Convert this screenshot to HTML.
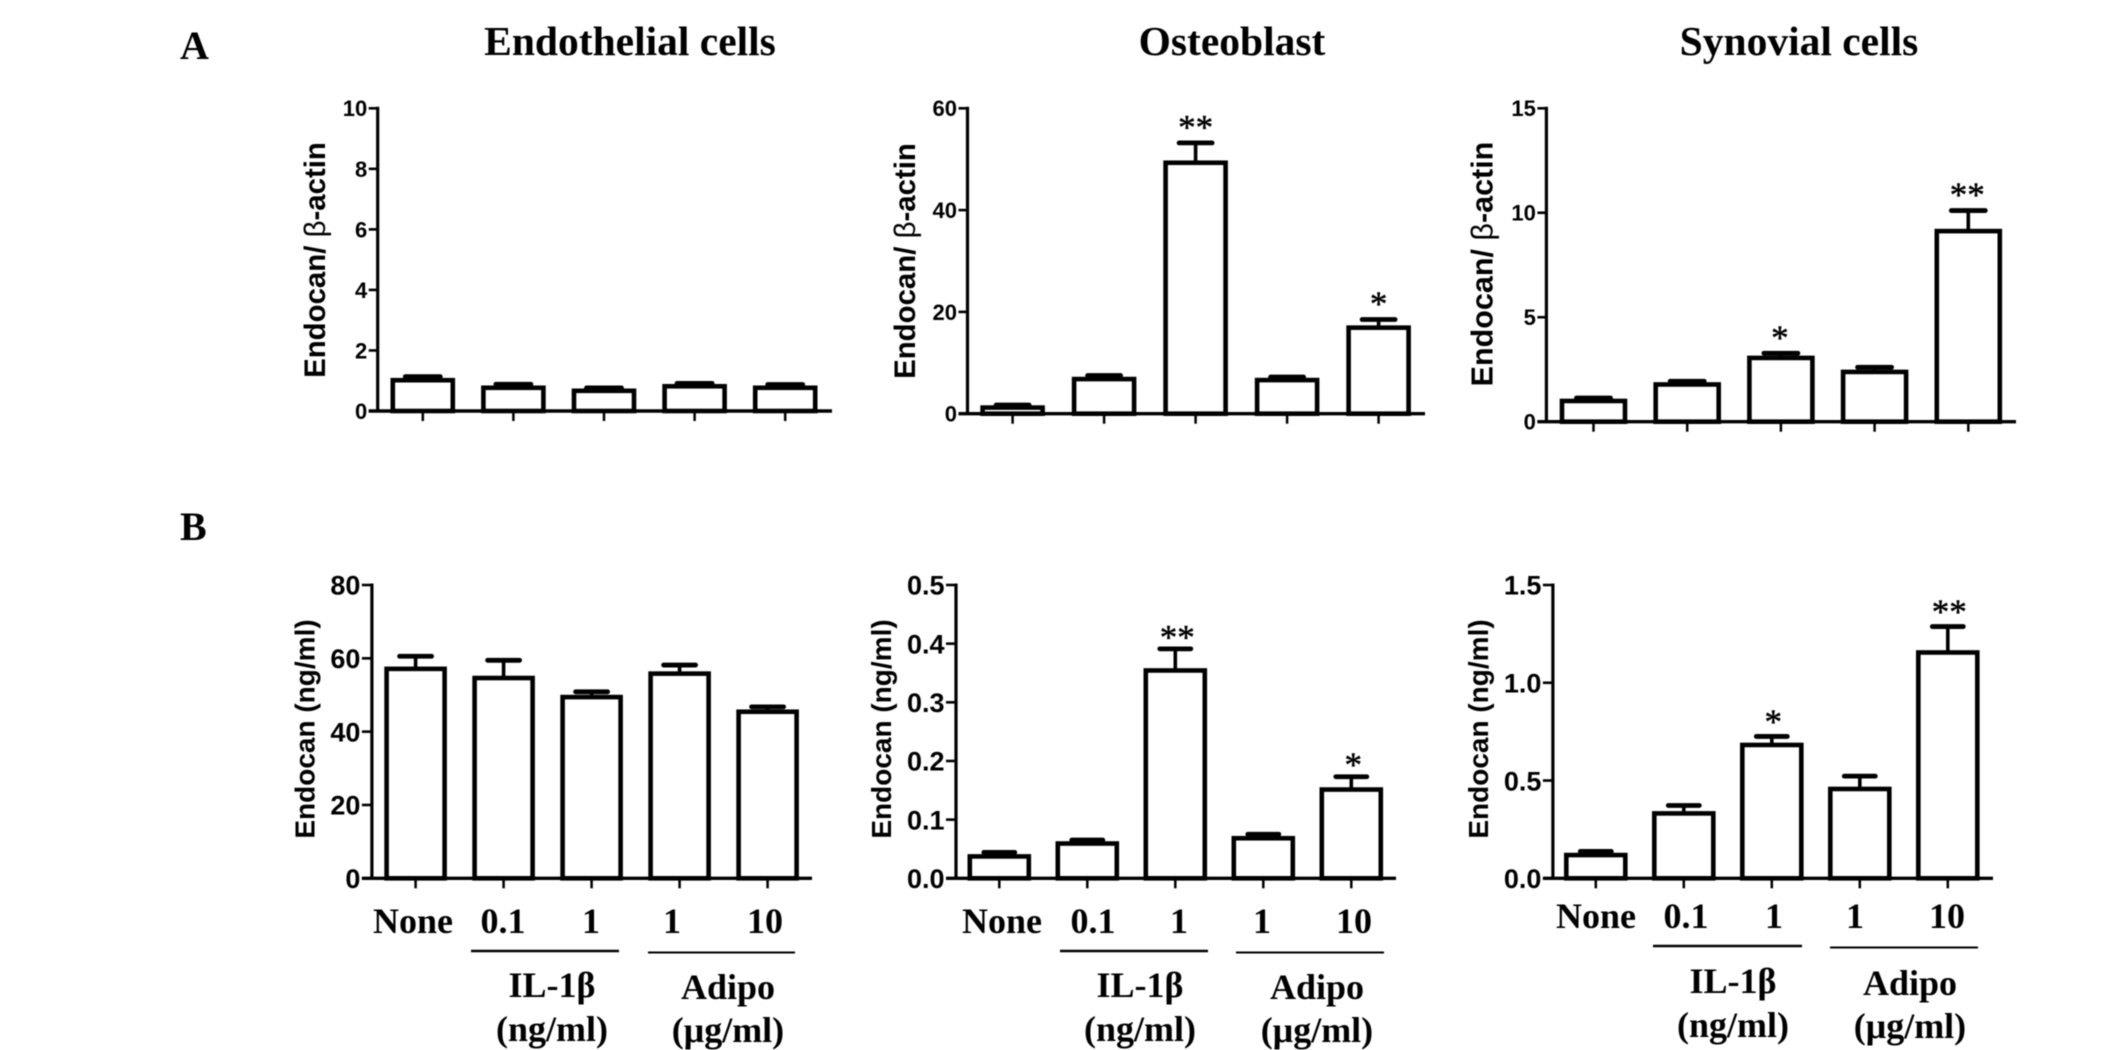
<!DOCTYPE html>
<html lang="en">
<head>
<meta charset="utf-8">
<title>Endocan expression by cell type</title>
<style>
html,body{margin:0;padding:0;background:#fff;width:2126px;height:1050px;overflow:hidden}
svg{display:block;filter:blur(0.4px)}
.serif{font-family:"Liberation Serif",serif;font-weight:bold;fill:#000}
.sans{font-family:"Liberation Sans",sans-serif;font-weight:bold;fill:#000}
.title{font-size:41.5px;text-anchor:middle}
.letter{font-size:40px}
.cat{font-size:36px;text-anchor:middle}
.grp{font-size:36px;text-anchor:middle}
</style>
</head>
<body>
<svg id="figure" width="2126" height="1050" viewBox="0 0 2126 1050" xmlns="http://www.w3.org/2000/svg">
<rect width="2126" height="1050" fill="#fff"/>
<text class="serif letter" x="180" y="59">A</text>
<text class="serif letter" x="180" y="540">B</text>
<text class="serif title" x="630" y="55">Endothelial cells</text>
<text class="serif title" x="1232" y="55">Osteoblast</text>
<text class="serif title" x="1799" y="55">Synovial cells</text>

<g>
<text class="serif cat" x="413" y="933">None</text>
<text class="serif cat" x="503" y="933">0.1</text>
<text class="serif cat" x="591" y="933">1</text>
<text class="serif cat" x="672" y="933">1</text>
<text class="serif cat" x="765" y="933">10</text>
<line x1="471" x2="619" y1="951" y2="951" stroke="#000" stroke-width="2.5"/>
<line x1="648" x2="795" y1="952.5" y2="952.5" stroke="#000" stroke-width="2"/>
<text class="serif grp" x="552" y="997">IL-1β</text>
<text class="serif grp" x="552" y="1041">(ng/ml)</text>
<text class="serif grp" x="728" y="999">Adipo</text>
<text class="serif grp" x="728" y="1042">(μg/ml)</text>
</g>
<g>
<text class="serif cat" x="1002" y="933">None</text>
<text class="serif cat" x="1093" y="933">0.1</text>
<text class="serif cat" x="1179" y="933">1</text>
<text class="serif cat" x="1262" y="933">1</text>
<text class="serif cat" x="1354" y="933">10</text>
<line x1="1060" x2="1208" y1="951" y2="951" stroke="#000" stroke-width="2.5"/>
<line x1="1236" x2="1384" y1="952.5" y2="952.5" stroke="#000" stroke-width="2"/>
<text class="serif grp" x="1140" y="997">IL-1β</text>
<text class="serif grp" x="1140" y="1041">(ng/ml)</text>
<text class="serif grp" x="1317" y="999">Adipo</text>
<text class="serif grp" x="1317" y="1042">(μg/ml)</text>
</g>
<g>
<text class="serif cat" x="1596" y="928">None</text>
<text class="serif cat" x="1686" y="928">0.1</text>
<text class="serif cat" x="1774" y="928">1</text>
<text class="serif cat" x="1855" y="928">1</text>
<text class="serif cat" x="1947" y="928">10</text>
<line x1="1653" x2="1802" y1="946" y2="946" stroke="#000" stroke-width="2.5"/>
<line x1="1830" x2="1978" y1="947.5" y2="947.5" stroke="#000" stroke-width="2"/>
<text class="serif grp" x="1733" y="993">IL-1β</text>
<text class="serif grp" x="1733" y="1037">(ng/ml)</text>
<text class="serif grp" x="1910" y="995">Adipo</text>
<text class="serif grp" x="1910" y="1038">(μg/ml)</text>
</g>
</svg>
<script>
// Shared categories
const categories = ['None', 'IL-1b 0.1', 'IL-1b 1', 'Adipo 1', 'Adipo 10'];

// Panel A: mRNA ratio
const endoMrnaTicks = ['0', '2', '4', '6', '8', '10'];
const endoMrnaMeans = [1.05, 0.8, 0.7, 0.85, 0.8];
const endoMrnaUpper = [1.15, 0.9, 0.78, 0.93, 0.89];
const endoMrnaStars = ['', '', '', '', ''];

const osteoMrnaTicks = ['0', '20', '40', '60'];
const osteoMrnaMeans = [1.4, 7.0, 49.5, 6.8, 17.1];
const osteoMrnaUpper = [1.8, 7.6, 53.3, 7.3, 18.6];
const osteoMrnaStars = ['', '', '**', '', '*'];

const synoMrnaTicks = ['0', '5', '10', '15'];
const synoMrnaMeans = [1.04, 1.83, 3.1, 2.43, 9.17];
const synoMrnaUpper = [1.16, 1.96, 3.3, 2.63, 10.13];
const synoMrnaStars = ['', '', '*', '', '**'];

// Panel B: secreted protein
const endoProtTicks = ['0', '20', '40', '60', '80'];
const endoProtMeans = [57.4, 54.9, 49.7, 56.1, 45.7];
const endoProtUpper = [60.7, 59.6, 51.0, 58.3, 46.9];
const endoProtStars = ['', '', '', '', ''];

const osteoProtTicks = ['0.0', '0.1', '0.2', '0.3', '0.4', '0.5'];
const osteoProtMeans = [0.039, 0.061, 0.356, 0.07, 0.153];
const osteoProtUpper = [0.045, 0.066, 0.392, 0.076, 0.174];
const osteoProtStars = ['', '', '**', '', '*'];

const synoProtTicks = ['0.0', '0.5', '1.0', '1.5'];
const synoProtMeans = [0.124, 0.337, 0.687, 0.462, 1.16];
const synoProtUpper = [0.14, 0.375, 0.728, 0.525, 1.29];
const synoProtStars = ['', '', '*', '', '**'];

const SVG_NS = 'http://www.w3.org/2000/svg';
const figure = document.getElementById('figure');

function make(tag, parent, props) {
  const node = document.createElementNS(SVG_NS, tag);
  for (const key in props) node.setAttribute(key, props[key]);
  parent.appendChild(node);
  return node;
}

function drawPanel(name, layout, means, upper, stars, ticks) {
  const maxValue = parseFloat(ticks[ticks.length - 1]);
  const minValue = parseFloat(ticks[0]);
  const yScale = v => layout.base - (v - minValue) / (maxValue - minValue) * (layout.base - layout.top);
  const xScale = i => layout.first + i * layout.step;

  const group = make('g', figure, {});
  
  

  categories.forEach((cat, i) => {
    const cx = xScale(i);
    const yTop = yScale(means[i]) + 1;
    const yErr = yScale(upper[i]) + 0.5;

    const whisker = make('line', group, {x1: cx, x2: cx, y1: yTop, y2: yErr, stroke: '#000', 'stroke-width': 3.6});
    
    

    const cap = make('line', group, {x1: cx - layout.cap / 2, x2: cx + layout.cap / 2, y1: yErr, y2: yErr, stroke: '#000', 'stroke-width': 4.8, 'stroke-linecap': 'round'});
    
    

    const bar = make('rect', group, {x: cx - layout.barW / 2, y: yTop, width: layout.barW, height: layout.base - yTop, fill: '#fff', stroke: '#000', 'stroke-width': 4.6});
    
    

    const tick = make('line', group, {x1: cx, x2: cx, y1: layout.base, y2: layout.base + 10, stroke: '#000', 'stroke-width': 2.5});
    
    

    if (stars[i]) {
      const star = make('text', group, {x: cx + layout.starDx, y: yErr - layout.starGap + 14, 'text-anchor': 'middle', 'font-size': 35, 'font-family': '"Liberation Serif", serif', fill: '#000', stroke: '#000', 'stroke-width': 0.5});
      star.textContent = stars[i];
      
      
    }
  });

  const yAxis = make('line', group, {x1: layout.axisX, x2: layout.axisX, y1: layout.top - 1.5, y2: layout.base, stroke: '#000', 'stroke-width': 3.2});
  
  

  const xAxis = make('line', group, {x1: layout.axisX - layout.tickLen, x2: layout.axisEnd, y1: layout.base, y2: layout.base, stroke: '#000', 'stroke-width': 3.4});
  
  

  ticks.forEach(label => {
    const y = yScale(parseFloat(label));
    const mark = make('line', group, {x1: layout.axisX - layout.tickLen, x2: layout.axisX, y1: y, y2: y, stroke: '#000', 'stroke-width': 2.6});
    
    

    const text = make('text', group, {x: layout.axisX - layout.tickLen - 1.5, y: y + layout.tickFont * 0.36, 'text-anchor': 'end', 'font-size': layout.tickFont, class: 'sans'});
    text.textContent = label;
    
    
  });

  const title = make('text', group, {transform: 'translate(' + layout.titleX + ',' + layout.titleY + ') rotate(-90)', 'text-anchor': 'middle', 'font-size': layout.titleFont, class: 'sans'});
  title.textContent = layout.title;
  if (layout.greek) {
    title.textContent = 'Endocan/ ';
    const beta = make('tspan', title, {'font-weight': 'normal'});
    beta.textContent = 'β';
    const rest = make('tspan', title, {});
    rest.textContent = '-actin';
  }
  
  
}

drawPanel('endothelial-mrna', {top: 108.3, base: 411, axisX: 377.7, axisEnd: 832, tickLen: 9, first: 422.8, step: 90.6, barW: 60, cap: 35, starGap: 18, starDx: 0, tickFont: 22, titleFont: 29.4, titleX: 325, titleY: 260, greek: true}, endoMrnaMeans, endoMrnaUpper, endoMrnaStars, endoMrnaTicks);
drawPanel('osteoblast-mrna', {top: 108.3, base: 413.7, axisX: 967.5, axisEnd: 1425, tickLen: 9, first: 1012.6, step: 91.5, barW: 60, cap: 33, starGap: 18, starDx: 0, tickFont: 22, titleFont: 29.4, titleX: 915, titleY: 261, greek: true}, osteoMrnaMeans, osteoMrnaUpper, osteoMrnaStars, osteoMrnaTicks);
drawPanel('synovial-mrna', {top: 108.3, base: 421.7, axisX: 1546.4, axisEnd: 2016, tickLen: 9, first: 1593.5, step: 93.7, barW: 63, cap: 34, starGap: 18, starDx: -1, tickFont: 22, titleFont: 30.5, titleX: 1492.5, titleY: 264, greek: true}, synoMrnaMeans, synoMrnaUpper, synoMrnaStars, synoMrnaTicks);

drawPanel('endothelial-protein', {top: 585, base: 878.3, axisX: 371.9, axisEnd: 812, tickLen: 10, first: 415.6, step: 88, barW: 58, cap: 32, starGap: 18, starDx: 0, tickFont: 27, titleFont: 28, titleX: 314.5, titleY: 729, title: 'Endocan (ng/ml)'}, endoProtMeans, endoProtUpper, endoProtStars, endoProtTicks);
drawPanel('osteoblast-protein', {top: 585, base: 878.3, axisX: 956, axisEnd: 1396, tickLen: 10, first: 999.3, step: 88, barW: 59, cap: 31, starGap: 14, starDx: 2, tickFont: 27, titleFont: 28, titleX: 891, titleY: 729, title: 'Endocan (ng/ml)'}, osteoProtMeans, osteoProtUpper, osteoProtStars, osteoProtTicks);
drawPanel('synovial-protein', {top: 585, base: 878.3, axisX: 1552.9, axisEnd: 1993, tickLen: 10, first: 1595.8, step: 88, barW: 59, cap: 31, starGap: 17, starDx: 1.5, tickFont: 27, titleFont: 28, titleX: 1488, titleY: 729, title: 'Endocan (ng/ml)'}, synoProtMeans, synoProtUpper, synoProtStars, synoProtTicks);
</script>
</body>
</html>
